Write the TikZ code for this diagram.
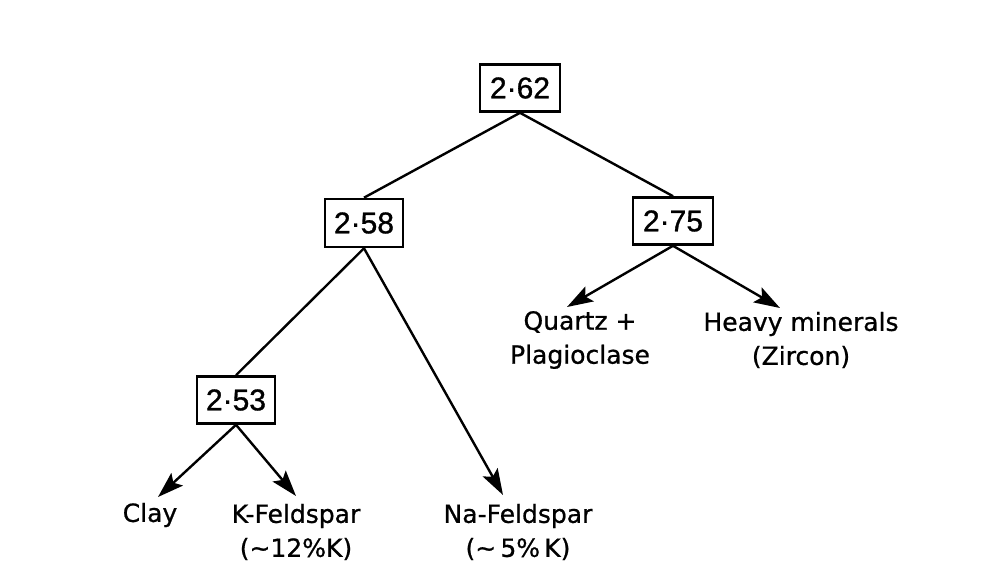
\documentclass[tikz,border=0pt]{standalone}
\usepackage{fontspec}
\setmainfont{DejaVu Sans}[FakeBold=0.8]
\newfontfamily\numfont{Liberation Sans}[FakeBold=1.0]
\usetikzlibrary{arrows.meta}
\begin{document}
\begin{tikzpicture}[x=1pt,y=-1pt,
  valbox/.style={draw,line width=2.6pt,minimum width=80pt,minimum height=47pt,inner sep=0pt,
    font=\numfont\fontsize{30}{32}\selectfont},
  lbl/.style={align=center,inner sep=0pt,font=\fontsize{25}{34}\selectfont},
  link/.style={line width=2.4pt},
  arr/.style={line width=2.4pt,-{Stealth[length=26pt,width=17pt,inset=5pt]}}]
\useasboundingbox[fill=white] (0,0) rectangle (997,575);
\node[valbox] (b262) at (520,88) {2·62};
\node[valbox,minimum width=78pt,minimum height=48pt] (b258) at (364,223) {2·58};
\node[valbox] (b275) at (673,221) {2·75};
\node[valbox,minimum width=78pt] (b253) at (236,400) {2·53};
\node[lbl] (quartz) at (580,340) {Quartz +\\Plagioclase};
\node[lbl] (heavy) at (801,340) {Heavy minerals\\(Zircon)};
\node[lbl] (clay) at (150,515) {Clay};
\node[lbl] (kfeld) at (296,532) {K-Feldspar\\(\textasciitilde12\%K)};
\node[lbl] (nafeld) at (518,532) {Na-Feldspar\\(\textasciitilde\,5\%\,K)};
\coordinate (tq) at (567,307);
\coordinate (th) at (780,308);
\coordinate (tc) at (158,497);
\coordinate (tk) at (296,496);
\coordinate (tn) at (503,495);
\draw[link] (b262.south) -- (b258.north);
\draw[link] (b262.south) -- (b275.north);
\draw[link] (b258.south) -- (b253.north);
\draw[arr] (b258.south) -- (tn);
\draw[arr] (b275.south) -- (tq);
\draw[arr] (b275.south) -- (th);
\draw[arr] (b253.south) -- (tc);
\draw[arr] (b253.south) -- (tk);
\end{tikzpicture}
\end{document}
